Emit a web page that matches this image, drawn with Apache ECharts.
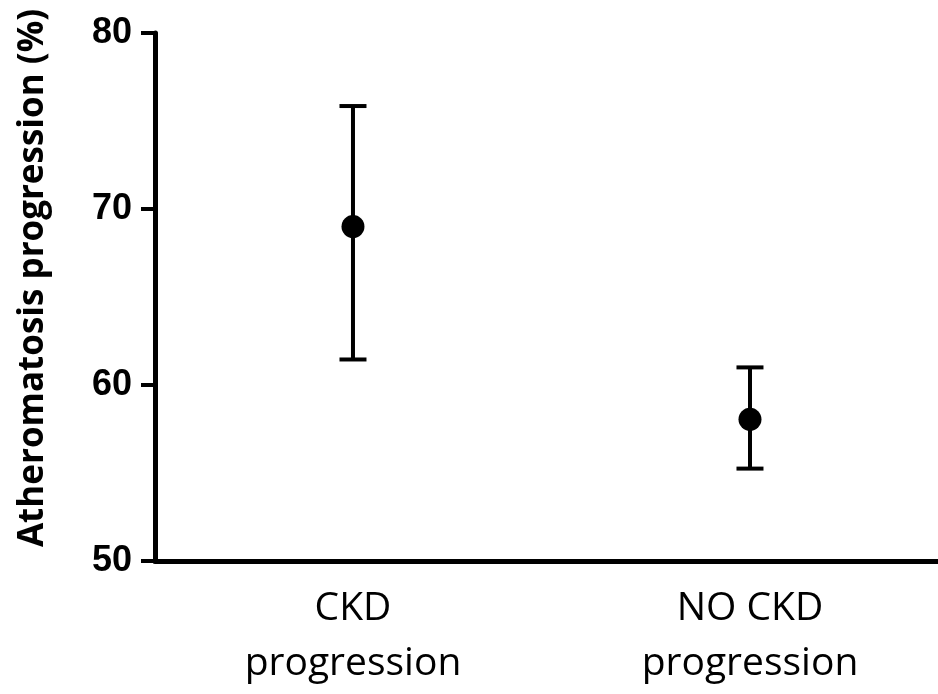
<!DOCTYPE html>
<html>
<head>
<meta charset="utf-8">
<script src="https://cdn.jsdelivr.net/npm/echarts@6/dist/echarts.min.js"></script>
<style>html,body{margin:0;padding:0;background:#fff;}#chart{width:938px;height:694px;}</style>
</head>
<body>
<div id="chart"></div>
<script>
var categories = ['CKD\nprogression', 'NO CKD\nprogression'];
var means = [69.0, 58.05];
var upper = [75.85, 61.0];
var lower = [61.45, 55.25];
var yTicks = [50, 60, 70, 80];
var yTitle = 'Atheromatosis progression (%)';

var chart = echarts.init(document.getElementById('chart'));
var idx = categories.map(function (c, i) { return i; });
var errData = idx.map(function (i) { return [i, lower[i], upper[i]]; });
var meanData = idx.map(function (i) { return [i, means[i]]; });
var option = {
  animation: false,
  grid: { left: 155, top: 33, right: 0, bottom: 133, containLabel: false },
  xAxis: {
    type: 'value',
    min: -0.4987, max: 1.4736,
    splitLine: { show: false },
    axisLine: { onZero: false, lineStyle: { color: '#000', width: 5 } },
    axisTick: { show: false },
    axisLabel: {
      customValues: idx,
      formatter: function (v) { return categories[Math.round(v)]; },
      color: '#000', fontSize: 39, lineHeight: 55, fontFamily: 'Open Sans', margin: 20
    }
  },
  yAxis: {
    type: 'value',
    min: yTicks[0], max: yTicks[yTicks.length - 1], interval: 10,
    name: yTitle,
    nameLocation: 'middle',
    nameGap: 104,
    nameTextStyle: { color: '#000', fontSize: 35, fontWeight: 'bold', fontFamily: 'Open Sans', padding: [0, 0, 0, 38] },
    splitLine: { show: false },
    axisLine: { show: true, onZero: false, lineStyle: { color: '#000', width: 5 } },
    axisTick: { show: true, length: 14, lineStyle: { color: '#000', width: 4 } },
    axisLabel: { color: '#000', fontSize: 36, fontWeight: 'bold', fontFamily: 'Liberation Sans', margin: 23 }
  },
  series: [
    {
      type: 'custom',
      data: errData,
      renderItem: function (params, api) {
        var x = api.value(0);
        var lo = api.coord([x, api.value(1)]);
        var hi = api.coord([x, api.value(2)]);
        var hw = 13.5;
        var st = { stroke: '#000', lineWidth: 4, fill: null };
        return {
          type: 'group',
          children: [
            { type: 'line', shape: { x1: lo[0], y1: lo[1], x2: hi[0], y2: hi[1] }, style: st },
            { type: 'line', shape: { x1: hi[0] - hw, y1: hi[1], x2: hi[0] + hw, y2: hi[1] }, style: st },
            { type: 'line', shape: { x1: lo[0] - hw, y1: lo[1], x2: lo[0] + hw, y2: lo[1] }, style: st }
          ]
        };
      },
      z: 2
    },
    {
      type: 'scatter',
      data: meanData,
      symbol: 'circle',
      symbolSize: 23,
      itemStyle: { color: '#000', opacity: 1 },
      z: 3
    }
  ]
};
chart.setOption(option);
</script>
</body>
</html>
